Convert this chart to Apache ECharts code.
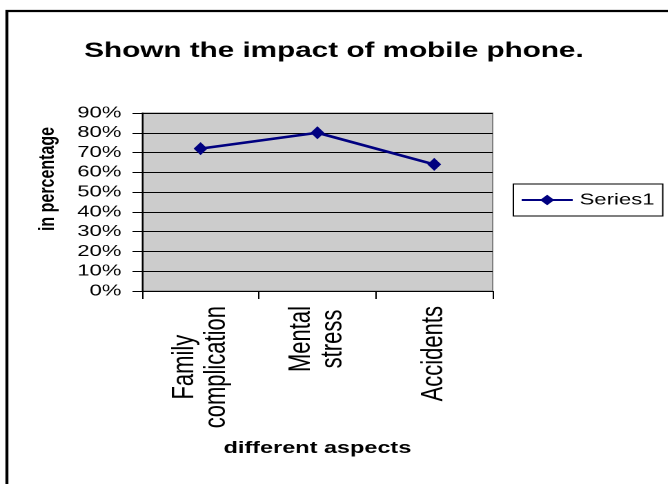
<!DOCTYPE html>
<html>
<head>
<meta charset="utf-8">
<title>Shown the impact of mobile phone.</title>
<script src="https://cdn.jsdelivr.net/npm/echarts@6/dist/echarts.min.js"></script>
<style>
  html, body { margin: 0; padding: 0; background: #fff; overflow: hidden; }
  #wrap { width: 668px; height: 484px; overflow: hidden; }
  /* the chart is laid out narrow and widened horizontally, giving the wide letterforms */
  #chart { width: 484px; height: 484px; transform: scaleX(1.38); transform-origin: 0 0; }
</style>
</head>
<body>
<div id="wrap"><div id="chart"></div></div>
<script>
// chart data
const categories = ['Family\ncomplication', 'Mental\nstress', 'Accidents'];
const seriesName = 'Series1';
const seriesValues = [72, 80, 64];
const yTicks = { min: 0, max: 90, step: 10 };

const FONT = '"Liberation Sans", Arial, Helvetica, sans-serif';

const chart = echarts.init(document.getElementById('chart'), null, { devicePixelRatio: 2 });

chart.setOption({
  backgroundColor: '#ffffff',
  animation: false,
  title: {
    text: 'Shown the impact of mobile phone.',
    left: 'center',
    top: 35,
    textStyle: { fontFamily: FONT, fontSize: 21.5, fontWeight: 'bold', color: '#000' }
  },
  legend: {
    left: 372,
    top: 184,
    orient: 'vertical',
    padding: [8, 6, 8, 5],
    borderColor: '#000',
    borderWidth: 1,
    itemWidth: 37,
    itemHeight: 13,
    textStyle: { fontFamily: FONT, fontSize: 16, color: '#000' },
    data: [seriesName]
  },
  grid: {
    left: 103,
    top: 113,
    width: 254,
    height: 178,
    show: true,
    backgroundColor: '#cccccc',
    borderColor: '#808080',
    borderWidth: 1,
    containLabel: false
  },
  xAxis: {
    type: 'category',
    data: categories,
    boundaryGap: true,
    name: 'different aspects',
    nameLocation: 'middle',
    nameGap: 149,
    nameTextStyle: { fontFamily: FONT, fontSize: 17, fontWeight: 'bold', color: '#000' },
    axisLine: { show: true, lineStyle: { color: '#000', width: 1 } },
    axisTick: { show: true, length: 8, alignWithLabel: false, interval: 0, lineStyle: { color: '#000' } },
    axisLabel: {
      interval: 0,
      rotate: 90,
      margin: 15,
      color: '#000',
      fontFamily: FONT,
      fontSize: 22,
      lineHeight: 23,
      formatter: function (v) {
        return v.split('\n').map(function (s) { return '{c|' + s + '}'; }).join('\n');
      },
      rich: {
        c: { align: 'center', fontFamily: FONT, fontSize: 22, lineHeight: 23, color: '#000' }
      }
    },
    splitLine: { show: false }
  },
  yAxis: {
    type: 'value',
    min: yTicks.min,
    max: yTicks.max,
    interval: yTicks.step,
    axisLine: { show: true, lineStyle: { color: '#000', width: 1 } },
    axisTick: { show: true, length: 7, lineStyle: { color: '#000' } },
    axisLabel: {
      margin: 15,
      color: '#000',
      fontFamily: FONT,
      fontSize: 16,
      formatter: '{value}%'
    },
    splitLine: { show: true, lineStyle: { color: '#000', width: 1 } }
  },
  series: [{
    name: seriesName,
    type: 'line',
    data: seriesValues,
    symbol: 'diamond',
    symbolSize: [10, 13],
    lineStyle: { color: '#000080', width: 2.6 },
    itemStyle: { color: '#000080' }
  }],
  graphic: [
    {
      // outer frame of the chart area
      type: 'rect',
      z: 100,
      shape: { x: 5, y: 11, width: 1000, height: 1000 },
      style: { fill: 'none', stroke: '#000', lineWidth: 2.2 }
    },
    {
      type: 'text',
      z: 100,
      x: 34.4,
      y: 179,
      rotation: Math.PI / 2,
      style: {
        text: 'in percentage',
        fontFamily: FONT,
        fontSize: 16,
        fontWeight: 'bold',
        fill: '#000',
        align: 'center',
        verticalAlign: 'middle'
      }
    }
  ]
});
</script>
</body>
</html>
